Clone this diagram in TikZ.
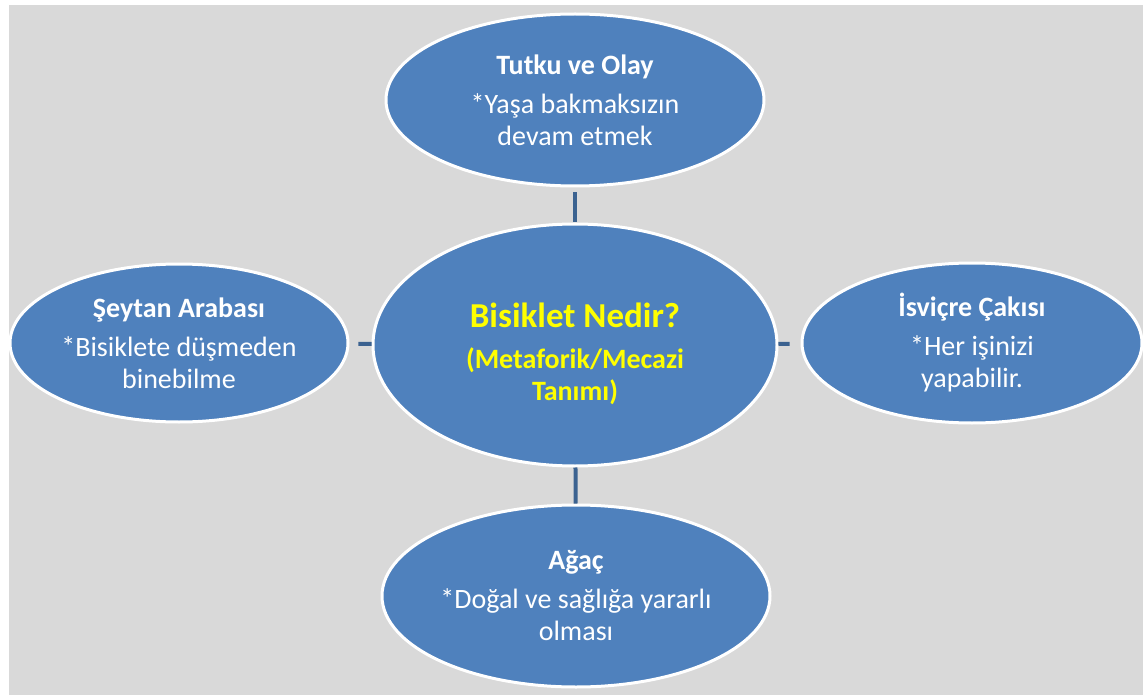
\documentclass[tikz,border=0pt]{standalone}
\usepackage{fontspec}
\setmainfont{Carlito}
\usetikzlibrary{shapes.geometric}
\definecolor{bgray}{HTML}{D9D9D9}
\definecolor{efill}{HTML}{4F81BD}
\definecolor{conncol}{HTML}{3B6290}
\definecolor{ytext}{HTML}{FFFF00}
\tikzset{
  bubble/.style={ellipse, fill=efill, draw=white, line width=3pt, inner sep=0pt,
    text=white, align=center, font=\fontsize{28}{32}\selectfont},
  conn/.style={draw=conncol, line width=4pt}
}
\newcommand{\ttlfont}{\fontsize{28}{32}\selectfont\bfseries}
\newcommand{\bodyfont}{\fontsize{28}{32}\selectfont\mdseries}
\begin{document}
\begin{tikzpicture}[x=1pt,y=-1pt]
\useasboundingbox (0,0) rectangle (1143,695);
\fill[white] (0,0) rectangle (1143,695);
\fill[bgray] (9,5) rectangle (1143,695);
\node[bubble, minimum width=378pt, minimum height=172pt] (top) at (575,100)
  {\ttlfont Tutku ve Olay\\[7pt]\bodyfont *Yaşa bakmaksızın\\\bodyfont devam etmek};
\node[bubble, minimum width=404pt, minimum height=242pt, text=ytext] (mid) at (575,345)
  {\fontsize{35}{40}\selectfont\bfseries\rule{0pt}{42pt}Bisiklet Nedir?\\[9pt]
   \fontsize{28}{29}\selectfont\bfseries (Metaforik/Mecazi\\\fontsize{28}{29}\selectfont\bfseries Tanımı)};
\node[bubble, minimum width=338pt, minimum height=158pt] (left) at (179,343)
  {\ttlfont Şeytan Arabası\\[7pt]\bodyfont *Bisiklete düşmeden\\\bodyfont binebilme};
\node[bubble, minimum width=340pt, minimum height=160pt] (right) at (972,343)
  {\ttlfont İsviçre Çakısı\\[7pt]\bodyfont *Her işinizi\\\bodyfont yapabilir.};
\node[bubble, minimum width=388pt, minimum height=182pt] (bot) at (576,596)
  {\ttlfont Ağaç\\[7pt]\bodyfont *Doğal ve sağlığa yararlı\\\bodyfont olması};
\draw[conn, shorten <=5pt] (top) -- (mid);
\draw[conn] (mid) -- (bot);
\draw[conn, shorten <=9pt] (left) -- (mid);
\draw[conn, shorten >=11pt] (mid) -- (right);
\end{tikzpicture}
\end{document}
